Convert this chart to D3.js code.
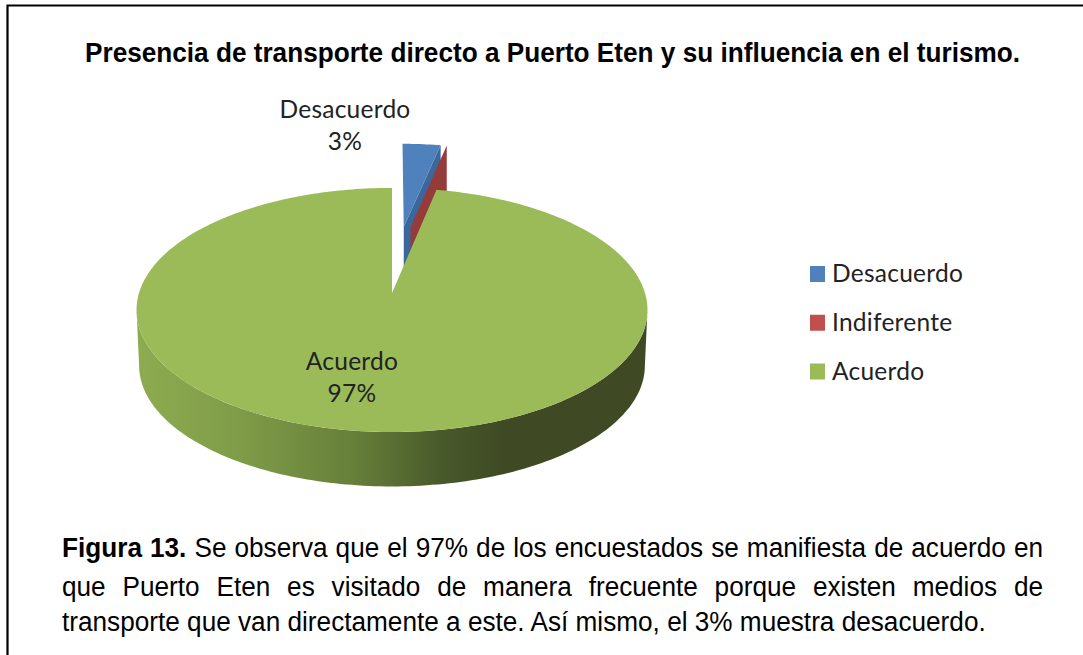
<!DOCTYPE html>
<html>
<head>
<meta charset="utf-8">
<script src="https://cdn.jsdelivr.net/npm/d3@7"></script>
<style>
    html, body { margin: 0; padding: 0; background: #fff; }
    svg { display: block; }
</style>
</head>
<body>
<div class="chart"></div>
<script>
const categories = ['Desacuerdo', 'Indiferente', 'Acuerdo'];
const percentages = [3.2, 0, 96.8];
const sliceColors = ['#4f81bd', '#c0504d', '#9bbb59'];
const sideColors = ['#3c679c', '#953b39', '#5c7336'];

const titleText = 'Presencia de transporte directo a Puerto Eten y su influencia en el turismo.';
const captionBold = 'Figura 13.';
const captionLines = [
    ' Se observa que el 97% de los encuestados se manifiesta de acuerdo en',
    'que Puerto Eten es visitado de manera frecuente porque existen medios de',
    'transporte que van directamente a este. Así mismo, el 3% muestra desacuerdo.'
];

const width = 1083;
const height = 655;

const svg = d3.select('.chart')
    .append('svg')
        .attr('width', width)
        .attr('height', height);

// frame: only top and left edges show up in the crop
svg.append('path')
    .attr('d', `M7.5,${height} V5.5 H${width}`)
    .attr('fill', 'none')
    .attr('stroke', '#000')
    .attr('stroke-width', 2.2);

svg.append('text')
    .attr('x', 85)
    .attr('y', 62)
    .attr('textLength', 935)
    .attr('lengthAdjust', 'spacingAndGlyphs')
    .style('font', 'bold 27px "Liberation Sans", Arial, sans-serif')
    .attr('fill', '#000')
    .text(titleText);

// pie in perspective
const cx = 392, cy = 293;
const radiusX = 253, radiusY = 119.7;
const persp = 0.139;
const wallDepth = 56;
const explodeDist = 0.6;
const explodeRadius = 0.91;
// direction each pulled out slice moves along (degrees from 12 o'clock), null = stays put
const explodeDirs = [4.8, 7.6, null];

const xScale = d3.scaleLinear().domain([-1, 1]).range([cx - radiusX, cx + radiusX]);
const yScale = d3.scaleLinear().domain([-1, 1]).range([cy - radiusY, cy + radiusY]);

function project(u, v, z) {
    const s = 1 / (1 - persp * v);
    return [xScale(u * s), yScale(v * s) + (z || 0)];
}

const pie = d3.pie().sort(null).value(d => d)(percentages);

const line = d3.line();

function arcPoints(a0, a1, ox, oy, r, z) {
    const n = Math.max(2, Math.ceil(Math.abs(a1 - a0) / 0.02));
    return d3.range(n + 1).map(i => {
        const a = a0 + (a1 - a0) * i / n;
        return project(ox + r * Math.sin(a), oy - r * Math.cos(a), z);
    });
}

const defs = svg.append('defs');
const wallGrad = defs.append('linearGradient')
    .attr('id', 'wall')
    .attr('gradientUnits', 'userSpaceOnUse')
    .attr('x1', 136).attr('x2', 648)
    .attr('y1', 0).attr('y2', 0);
[[0, '#8dac50'], [0.2, '#7f9c48'], [0.42, '#67803a'], [0.6, '#48592a'], [0.72, '#3f4a24'], [1, '#3f4a24']]
    .forEach(s => wallGrad.append('stop').attr('offset', s[0]).attr('stop-color', s[1]));

const plot = svg.append('g');

function drawExploded(i) {
    const d = pie[i];
    const dir = explodeDirs[i] * Math.PI / 180;
    const ox = explodeDist * Math.sin(dir);
    const oy = -explodeDist * Math.cos(dir);
    const apex = project(ox, oy, 0);
    const apexLow = project(ox, oy, wallDepth);
    const end = arcPoints(d.endAngle, d.endAngle, ox, oy, explodeRadius, 0)[0];
    const endLow = arcPoints(d.endAngle, d.endAngle, ox, oy, explodeRadius, wallDepth)[0];

    // cut face on the right hand side of the slice
    plot.append('path')
        .attr('d', line([apex, end, endLow, apexLow]) + 'Z')
        .attr('fill', sideColors[i]);

    if (d.endAngle > d.startAngle) {
        plot.append('path')
            .attr('d', line([apex].concat(arcPoints(d.startAngle, d.endAngle, ox, oy, explodeRadius, 0))) + 'Z')
            .attr('fill', sliceColors[i]);
    }
}

drawExploded(0);
drawExploded(1);

// big slice: wall first, then the top
const big = pie[2];
const sideFrom = Math.acos(-persp);
const sideTo = 2 * Math.PI - sideFrom;
const wallTop = arcPoints(sideFrom, sideTo, 0, 0, 1, 0);
const wallBottom = arcPoints(sideFrom, sideTo, 0, 0, 0.99, wallDepth).reverse();
plot.append('path')
    .attr('d', line(wallTop.concat(wallBottom)) + 'Z')
    .attr('fill', 'url(#wall)');

plot.append('path')
    .attr('d', line([project(0, 0, 0)].concat(arcPoints(big.startAngle, big.endAngle, 0, 0, 1, 0))) + 'Z')
    .attr('fill', sliceColors[2]);

// data labels
const labelFont = '24.5px Lato, "Open Sans", sans-serif';
const labelSpacing = '0.25px';
const labelSpots = [[345, 118, 150], null, [352, 370, 402]];
labelSpots.forEach((p, i) => {
    if (!p) return;
    const g = svg.append('g')
        .attr('text-anchor', 'middle')
        .attr('fill', '#222')
        .style('font', labelFont)
        .style('letter-spacing', labelSpacing);
    g.append('text').attr('x', p[0]).attr('y', p[1]).text(categories[i]);
    g.append('text').attr('x', p[0]).attr('y', p[2]).text(Math.round(percentages[i]) + '%');
});

// legend
const legendY = d3.scalePoint()
    .domain(categories)
    .range([274, 371.5]);

const legend = svg.append('g')
    .selectAll('g')
    .data(categories)
    .enter()
    .append('g')
        .attr('transform', d => `translate(810, ${legendY(d)})`);

legend.append('rect')
    .attr('x', 0)
    .attr('y', -8)
    .attr('width', 15)
    .attr('height', 16)
    .attr('fill', (d, i) => sliceColors[i]);

legend.append('text')
    .attr('x', 22)
    .attr('y', 8)
    .attr('fill', '#222')
    .style('font', labelFont)
    .style('letter-spacing', labelSpacing)
    .text(d => d);

// caption, first two lines are justified to the column
const captionLeft = 62;
const captionRight = 1043;
const captionBase = [557, 595.5, 631];
const captionFont = '27px "Liberation Sans", Arial, sans-serif';
const captionSqueeze = 0.97;

captionLines.forEach((txt, i) => {
    const t = svg.append('text')
        .attr('transform', `translate(${captionLeft}, ${captionBase[i]}) scale(${captionSqueeze}, 1)`)
        .attr('fill', '#000')
        .style('font', captionFont)
        .attr('xml:space', 'preserve');
    let spaces = txt.trim().split(' ').length - 1;
    if (i === 0) {
        t.append('tspan').style('font-weight', 'bold').text(captionBold);
        spaces += 2;
    }
    t.append('tspan').text(txt);
    if (i < 2) {
        const extra = ((captionRight - captionLeft) / captionSqueeze - t.node().getComputedTextLength()) / spaces;
        t.style('word-spacing', extra + 'px');
    }
});
</script>
</body>
</html>
